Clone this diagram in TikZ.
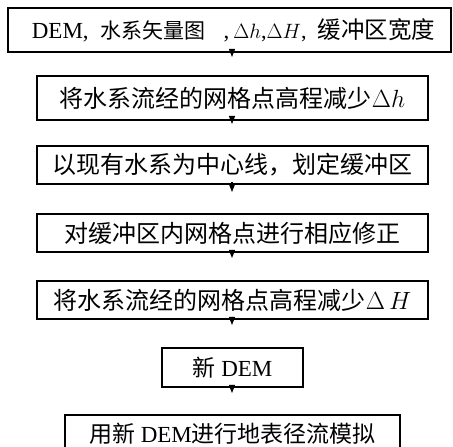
\documentclass[tikz,border=0pt]{standalone}
\usepackage{fontspec}
\setmainfont{Liberation Serif}
\newfontfamily\cjk{Noto Sans CJK SC}
\usetikzlibrary{arrows.meta}
\begin{document}
\begin{tikzpicture}[x=1pt,y=1pt,
  box/.style={draw, line width=1.1pt, inner sep=0pt, font=\fontsize{24}{28}\selectfont},
  arr/.style={line width=1.1pt, -{Triangle[width=6pt,length=8pt]}}]
\useasboundingbox (0,0) rectangle (453,447);
\node[box, minimum width=443pt, minimum height=44pt] (b1) at (229.5,417)
  {\hspace*{8pt}{\fontsize{23}{26}\selectfont DEM,}\hspace{12pt}{\fontsize{21}{24}\selectfont\cjk 水系矢量图}\hspace{18pt}{\fontsize{23}{26}\selectfont,}\hspace{4pt}{\fontsize{22}{26}\selectfont$\Delta h$,$\Delta H$,}\hspace{11pt}{\fontsize{23.5}{26}\selectfont\cjk 缓冲区宽度}};
\node[box, minimum width=391pt, minimum height=44pt] (b2) at (232.5,349)
  {{\cjk 将水系流经的网格点高程减少}$\Delta h$};
\node[box, minimum width=391pt, minimum height=38pt] (b3) at (232.5,282)
  {{\cjk 以现有水系为中心线，划定缓冲区}};
\node[box, minimum width=391pt, minimum height=38pt] (b4) at (232.5,214)
  {{\cjk 对缓冲区内网格点进行相应修正}};
\node[box, minimum width=391pt, minimum height=38pt] (b5) at (232.5,147)
  {{\cjk 将水系流经的网格点高程减少}$\Delta\,H$};
\node[box, minimum width=141pt, minimum height=39pt, font=\fontsize{23}{26}\selectfont] (b6) at (232.5,79.5)
  {{\cjk 新} DEM};
\node[box, minimum width=335pt, minimum height=38pt, font=\fontsize{23}{26}\selectfont] (b7) at (232.5,13)
  {{\cjk 用新} DEM{\cjk 进行地表径流模拟}};
\coordinate (a1) at (232,390);
\coordinate (a2) at (232,323);
\coordinate (a3) at (232,255);
\coordinate (a4) at (232,189);
\coordinate (a5) at (232,122);
\coordinate (a6) at (232,54);
\draw[arr] ([yshift=3pt]b1.south -| a1) -- (a1);
\draw[arr] ([yshift=3pt]b2.south -| a2) -- (a2);
\draw[arr] ([yshift=3pt]b3.south -| a3) -- (a3);
\draw[arr] ([yshift=3pt]b4.south -| a4) -- (a4);
\draw[arr] ([yshift=3pt]b5.south -| a5) -- (a5);
\draw[arr] ([yshift=3pt]b6.south -| a6) -- (a6);
\end{tikzpicture}
\end{document}
